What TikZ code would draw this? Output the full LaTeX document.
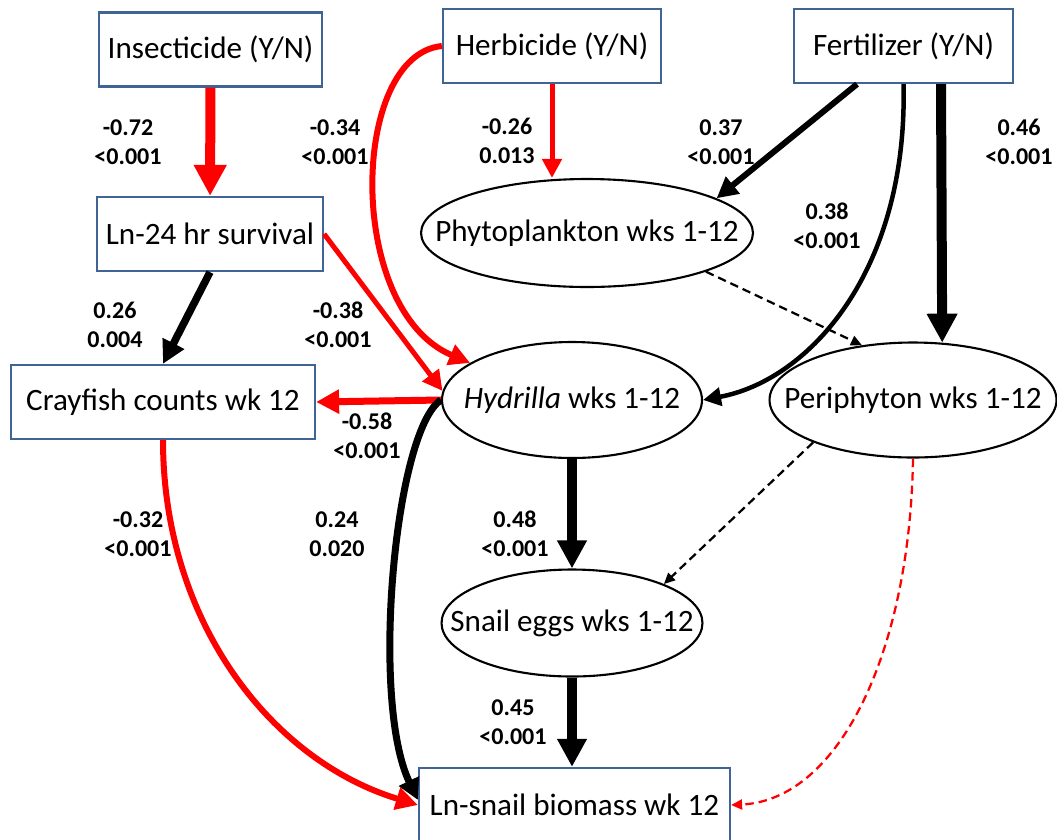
\documentclass[tikz,border=0pt]{standalone}
\usepackage{fontspec}
\setmainfont{Carlito}
\usetikzlibrary{arrows.meta, calc, shapes.geometric}
\definecolor{boxblue}{RGB}{65,100,150}
\newcommand{\inoval}[1]{\makebox[0pt]{#1}}
\tikzset{
  box/.style={draw=boxblue, line width=1.3pt, fill=white, minimum height=1.48cm, inner sep=2pt, font=\fontsize{17.7}{21}\selectfont},
  oval/.style={draw, ellipse, line width=1.2pt, fill=white, inner sep=0pt, font=\fontsize{17.7}{21}\selectfont},
  coef/.style={font=\bfseries\fontsize{13.7}{16.5}\selectfont, align=center, inner sep=0pt},
  posarr/.style={draw=black, line width=#1},
  negarr/.style={draw=red, line width=#1},
  ahead/.style={-{Triangle[length=#1, width=#1]}},
  dsh/.style={dash pattern=on 0.17cm off 0.1cm, line width=0.045cm, -{Triangle[length=0.22cm, width=0.2cm]}},
}
\begin{document}
\begin{tikzpicture}[x=0.02cm, y=-0.02cm]
  \useasboundingbox (0,0) rectangle (1057,839);
  \node[box, minimum width=4.46cm] (ins) at (210.5,49.5) {Insecticide (Y/N)};
  \node[box, minimum width=4.36cm] (herb) at (552,46) {Herbicide (Y/N)};
  \node[box, minimum width=4.38cm] (fert) at (903.5,46) {Fertilizer (Y/N)};
  \node[box, minimum width=4.52cm] (surv) at (210,234) {Ln-24 hr survival};
  \node[box, minimum width=6.08cm] (cray) at (163,402) {Crayfish counts wk 12};
  \node[box, minimum width=6.22cm] (snail) at (574.5,805) {Ln-snail biomass wk 12};
  \node[oval, minimum width=6.64cm, minimum height=2.16cm] (phyto) at (587,233) {\inoval{Phytoplankton wks 1-12}};
  \node[oval, minimum width=5.2cm, minimum height=2.32cm] (hyd) at (572,400) {\inoval{\textit{Hydrilla} wks 1-12}};
  \node[oval, minimum width=5.74cm, minimum height=2.3cm] (peri) at (913,400) {\inoval{Periphyton wks 1-12}};
  \node[oval, minimum width=5.22cm, minimum height=2.14cm] (eggs) at (572,623) {\inoval{Snail eggs wks 1-12}};

  \draw[negarr=0.2cm, ahead=0.62cm] (ins) -- (surv);
  \draw[negarr=0.1cm, ahead=0.38cm] (herb.south) -- (herb.south |- phyto.north);
  \draw[negarr=0.12cm, ahead=0.42cm] (herb.west) .. controls (350,55) and (345,310) .. (hyd.160);
  \draw[negarr=0.1cm, ahead=0.4cm] (surv.east) -- (hyd.176);
  \draw[negarr=0.14cm, ahead=0.46cm] (hyd.west) -- (cray.east);
  \draw[negarr=0.12cm, ahead=0.44cm] (cray.south) .. controls (163,620) and (270,760) .. (snail.west);
  \draw[posarr=0.15cm, ahead=0.46cm] (surv.south) -- (cray.north);
  \draw[posarr=0.12cm, ahead=0.42cm] ([xshift=-0.93cm]fert.south) -- (phyto.15);
  \draw[posarr=0.09cm, ahead=0.36cm] (fert.south) .. controls (908,270) and (810,380) .. (hyd.east);
  \draw[posarr=0.2cm, ahead=0.58cm] ([xshift=0.75cm]fert.south) -- (peri.63);
  \draw[posarr=0.2cm, ahead=0.56cm] (hyd.south) -- (eggs.north);
  \draw[posarr=0.2cm, ahead=0.56cm] (eggs.south) -- (eggs.south |- snail.north);
  \draw[posarr=0.14cm, ahead=0.42cm] (hyd.west) .. controls (395,430) and (370,700) .. ([yshift=0.1cm]snail.west);
  \draw[dsh] (phyto.-18) -- (peri.133);
  \draw[dsh] (peri.203) -- (eggs.23);
  \draw[dsh, red] (peri.south) .. controls (910,650) and (840,800) .. (snail.east);

  \node[coef] (w1) at (128,142) {-0.72\\<0.001};
  \node[coef] (w2) at (335,142) {-0.34\\<0.001};
  \node[coef] (w3) at (507,141) {-0.26\\0.013};
  \node[coef] (w4) at (721,142) {0.37\\<0.001};
  \node[coef] (w5) at (1019,142) {0.46\\<0.001};
  \node[coef] (w6) at (827,226) {0.38\\<0.001};
  \node[coef] (w7) at (115,325) {0.26\\0.004};
  \node[coef] (w8) at (338,325) {-0.38\\<0.001};
  \node[coef] (w9) at (367,436) {-0.58\\<0.001};
  \node[coef] (w10) at (138,534) {-0.32\\<0.001};
  \node[coef] (w11) at (337,534) {0.24\\0.020};
  \node[coef] (w12) at (515,534) {0.48\\<0.001};
  \node[coef] (w13) at (513,722) {0.45\\<0.001};
\end{tikzpicture}
\end{document}
